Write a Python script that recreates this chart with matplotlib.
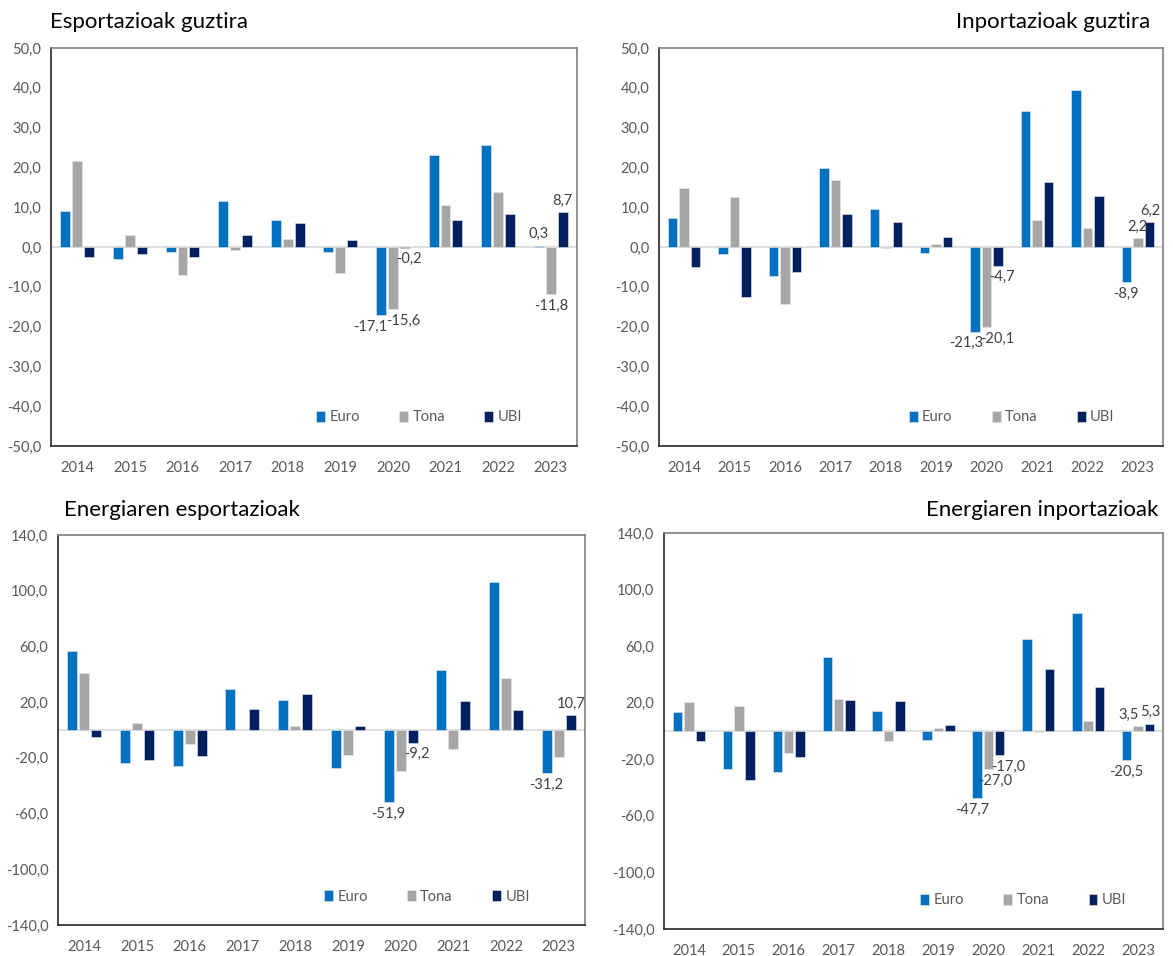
import matplotlib
matplotlib.use("Agg")
import matplotlib.pyplot as plt
import numpy as np

years = ["2014", "2015", "2016", "2017", "2018", "2019", "2020", "2021", "2022", "2023"]
series_names = ["Euro", "Tona", "UBI"]

# Esportazioak guztira
exp_euro = [9.1, -2.9, -1.3, 11.5, 6.9, -1.2, -17.1, 23.1, 25.6, 0.3]
exp_tona = [21.6, 3.0, -7.0, -0.8, 2.0, -6.6, -15.6, 10.6, 13.7, -11.8]
exp_ubi = [-2.4, -1.8, -2.6, 3.1, 6.0, 1.8, -0.2, 6.8, 8.2, 8.7]

# Inportazioak guztira
imp_euro = [7.3, -1.8, -7.3, 19.9, 9.5, -1.6, -21.3, 34.1, 39.5, -8.9]
imp_tona = [14.8, 12.6, -14.2, 16.8, -0.2, 0.7, -20.1, 6.7, 4.7, 2.2]
imp_ubi = [-5.1, -12.6, -6.2, 8.3, 6.2, 2.4, -4.7, 16.4, 12.9, 6.2]

# Energiaren esportazioak
eexp_euro = [57.0, -23.6, -26.0, 29.6, 21.2, -27.4, -51.9, 43.4, 106.4, -31.2]
eexp_tona = [41.0, 5.2, -10.0, 0.0, 2.6, -17.9, -29.3, -13.8, 37.0, -19.6]
eexp_ubi = [-5.2, -21.2, -18.6, 15.0, 26.2, 3.1, -9.2, 20.5, 14.3, 10.7]

# Energiaren inportazioak
eimp_euro = [13.2, -26.6, -29.2, 52.5, 14.1, -6.1, -47.7, 65.2, 83.3, -20.5]
eimp_tona = [20.2, 17.9, -15.3, 22.4, -7.3, 1.9, -27.0, -0.9, 7.3, 3.5]
eimp_ubi = [-6.8, -34.4, -18.6, 22.1, 21.4, 4.2, -17.0, 43.5, 30.8, 5.3]

titles = ["Esportazioak guztira", "Inportazioak guztira",
          "Energiaren esportazioak", "Energiaren inportazioak"]

# labelled bars: (series index, year index)
labels_1 = [(0, 6), (1, 6), (2, 6), (0, 9), (1, 9), (2, 9)]
labels_2 = [(0, 6), (1, 6), (2, 6), (0, 9), (1, 9), (2, 9)]
labels_3 = [(0, 6), (2, 6), (0, 9), (2, 9)]
labels_4 = [(0, 6), (1, 6), (2, 6), (0, 9), (1, 9), (2, 9)]

colors = ["#0070C0", "#A6A6A6", "#002060"]
FONT = ["Lato", "DejaVu Sans"]
plt.rcParams["font.family"] = FONT

W, H = 1173, 956
fig = plt.figure(figsize=(W / 100, H / 100), dpi=100)


def fmt(v):
    return f"{v:.1f}".replace(".", ",")


def make_panel(rect_px, data, title, title_pos, title_ha, yticks, labels,
               shifts, leg_x):
    l, t, r, b = rect_px
    ax = fig.add_axes([l / W, 1 - b / H, (r - l) / W, (b - t) / H])
    x = np.arange(len(years))
    bw = 0.19
    step = 0.228
    for i, (vals, name) in enumerate(zip(data, series_names)):
        ax.bar(x + (i - 1) * step, vals, bw, color=colors[i], label=name,
               edgecolor="#E8E8E8", linewidth=0.4, zorder=3)
    ax.set_xlim(-0.5, len(years) - 0.5)
    ax.set_ylim(yticks[0], yticks[-1])
    ax.set_yticks(yticks)
    ax.set_yticklabels([fmt(v) for v in yticks])
    ax.set_xticks(x)
    ax.set_xticklabels(years)
    ax.tick_params(axis="both", length=0, labelsize=10.5, colors="#595959")
    ax.tick_params(axis="x", pad=11)
    ax.tick_params(axis="y", pad=7)
    ax.axhline(0, color="#D9D9D9", linewidth=1.2, zorder=2)
    for s in ["left", "bottom"]:
        ax.spines[s].set_color("#262626")
        ax.spines[s].set_linewidth(1.2)
    for s in ["top", "right"]:
        ax.spines[s].set_color("#7F7F7F")
        ax.spines[s].set_linewidth(1.2)
    for k, (si, yi) in enumerate(labels):
        v = data[si][yi]
        xp = x[yi] + (si - 1) * step
        dx, dy = shifts[k]
        if v >= 0:
            ax.annotate(fmt(v), (xp, v), xytext=(dx * 0.72, (4.5 + dy) * 0.72),
                        textcoords="offset points", ha="center", va="bottom",
                        fontsize=10.5, color="#404040", zorder=5)
        else:
            ax.annotate(fmt(v), (xp, v), xytext=(dx * 0.72, (-4.5 + dy) * 0.72),
                        textcoords="offset points", ha="center", va="top",
                        fontsize=10.5, color="#404040", zorder=5)
    leg = ax.legend(loc="center", bbox_to_anchor=(leg_x, 0.072), ncol=3,
                    frameon=False, fontsize=10.5, handlelength=0.6,
                    handleheight=0.8, handletextpad=0.3, columnspacing=2.7)
    for txt in leg.get_texts():
        txt.set_color("#595959")
    fig.text(title_pos[0] / W, 1 - title_pos[1] / H, title, ha=title_ha,
             va="center", fontsize=16, color="#000000")
    return ax


make_panel((51, 48, 577, 446), [exp_euro, exp_tona, exp_ubi], titles[0],
           (50, 22), "left", list(range(-50, 51, 10)), labels_1,
           [(-11, 0), (10, 0), (4, 0), (0, 0), (0, 0), (0, 0)], 0.70)
make_panel((659, 48, 1163, 446), [imp_euro, imp_tona, imp_ubi], titles[1],
           (1150, 22), "right", list(range(-50, 51, 10)), labels_2,
           [(-9, 0), (11, 0), (4, 0), (0, 0), (0, 0), (1, 0)], 0.70)
make_panel((58, 535, 585, 925), [eexp_euro, eexp_tona, eexp_ubi], titles[2],
           (64, 510), "left", list(range(-140, 141, 40)), labels_3,
           [(0, 0), (4, 0), (0, 0), (0, 0)], 0.70)
make_panel((664, 533, 1163, 929), [eimp_euro, eimp_tona, eimp_ubi], titles[3],
           (1158, 510), "right", list(range(-140, 141, 40)), labels_4,
           [(-5, 0), (7, 0), (8, 0), (0, 0), (-9, 0), (1, 0)], 0.72)

fig.savefig("out.png", dpi=100, facecolor="white")
